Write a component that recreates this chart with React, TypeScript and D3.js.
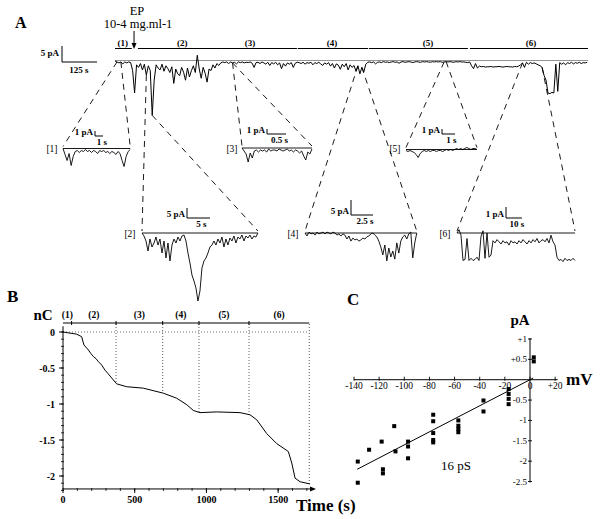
import React from "react";
import * as d3 from "d3";

const FONT = "'Liberation Serif','Times New Roman',serif";

// ---------- Panel A: main recording (pA), one sample every 7 s ----------
const MAIN_DT = 7;
const mainCurrent = [
  0, -0.3, -0.6, -0.3, -0.9, -0.3, -0.6, -0.3, -0.5, -3, -10,
  -1.2, -2.0, -0.8, -2.8, -1.0, -4.4, -1.5, -3.0, -17, -6,
  -1.2, -2.2, -2.8, -1.0, -3.2, -1.5, -2.4, -3.6, -1.8, -7.0,
  -2.5, -4.0, -4.6, -2.0, -3.5, -6.0, -2.2, -5.0, -3.0, -1.5,
  -3.6, 1.8, -2.5, -5.4, -2.0, -3.8, -6.6, -2.5, -3.0, -1.2,
  -2.2, -0.8, -1.4, -0.6, -0.3,
  -0.5, -0.3, -0.8, -0.3, -0.6, -0.4, -0.9, -0.3, -0.5, -0.3,
  -0.6, -0.4, -0.5, -0.3, -0.7, -2.0, -0.5, -0.4, -0.8, -0.3,
  -0.6, -1.0, -0.4, -1.4, -0.5, -0.9, -0.4, -1.2, -0.6, -2.4,
  -0.8, -1.6, -0.6, -1.0, -0.5, -2.0, -0.7, -0.4,
  -0.5, -0.8, -0.4, -1.0, -0.5, -0.7, -0.4, -1.2, -0.5, -0.8,
  -0.4, -0.9, -1.4, -0.6, -1.0, -0.5, -1.6, -0.8, -2.2, -0.9,
  -1.3, -2.6, -1.0, -1.8, -0.8, -2.8, -1.2, -2.0, -1.4, -3.2,
  -1.5, -4.0, -2.0, -3.4, -1.0, -0.4,
  -0.3, -0.5, -0.3, -0.9, -0.4, -0.3, -0.5, -0.2, -0.4, -0.3,
  -0.5, -0.3, -0.2, -0.4, -0.3, -0.7, -0.3, -0.2, -0.4, -0.3,
  -0.2, -0.3, -0.5, -0.3, -0.2, -0.3, -0.4, -0.2, -0.3, -0.2,
  -0.3, -0.4, -0.2, -0.3, -0.2, -0.3, -0.2, -0.4, -0.3, -0.2,
  -0.3, -0.2, -0.3, -0.4, -0.2, -0.3, -0.2, -0.3, -0.3, -0.4, -0.5, -0.3,
  -1.5, -2.4, -0.8, -2.2, -1.6,
  -1.8, -1.7, -1.9, -1.8, -1.8, -1.7, -1.9, -1.8, -1.8, -1.7,
  -1.8, -1.9, -1.8, -1.7, -1.8, -1.8, -1.9, -1.7, -1.8, -1.6,
  -1.2, -0.6, -2.0, -0.4, -1.0, -0.5, -0.8, -0.6, -0.9, -1.2,
  -1.5, -2.0, -4.5, -6.0, -10, -10.2, -9.8, -10, -1.0, -9.5,
  -0.5, -1.0, -0.6, -1.2, -0.5, -0.8, -0.4, -0.9, -0.5, -0.7, -0.4, -0.8, -0.5, -0.6, -0.4,
];
const mainSegmentLabels = ["(1)", "(2)", "(3)", "(4)", "(5)", "(6)"];
const mainSegmentStart = [0, 82, 382, 653, 907, 1268];
const mainSegmentEnd = [60, 382, 650, 904, 1261, 1690];
const mainSegmentLabelTime = [28, 240, 482, 775, 1118, 1486];
const EP_TIME = 68;
const epLines = ["EP", "10-4 mg.ml-1"];
const mainScalePA = 5;
const mainScaleS = 125;

// ---------- Panel A: expanded traces (pA) ----------
const insetNames = ["[1]", "[2]", "[3]", "[4]", "[5]", "[6]"];
const insetDurations = [8.4, 25.2, 1.84, 12.7, 5.46, 73.75];
const insetBarPA = [1, 5, 1, 5, 1, 1];
const insetBarS = [1, 5, 0.5, 2.5, 1, 10];
const insetBarSText = ["1 s", "5 s", "0.5 s", "2.5 s", "1 s", "10 s"];
// times (s) on the main recording where the dashed connectors start
const insetSourceTimes = [[7, 21], [112, 133], [420, 420], [868, 882], [1176, 1183], [1456, 1526]];
const inset1 = [0, -1.2, -2.4, -1, -3.4, -1.6, -0.6, -0.4, -0.8, -0.4, -0.6, -0.2, -0.6, -0.4, -0.8, -0.4, -0.6, -1, -0.4, -0.6, -0.4, -0.8, -0.6, -1, -0.6, -0.8, -1.2, -0.6, -1, -2.4, -3.6, -1.6, -0.6, -0.2];
const inset2 = [0, -1.5, -4, -9, -3, -7, -5, -2, -6, -3, -10, -4, -12.5, -5, -14, -6, -3, -5, -2, -4, -1.5, -1, -4, -10, -15, -21, -24, -27.5, -34, -29, -17.5, -14, -12.5, -10, -7, -6, -4, -6, -3, -5, -2, -7, -3, -6, -2.5, -4, -1.5, -5, -2, -3, -1, -4, -1.5, -2.5, -1, -3, -1.5, -2, 0];
const inset3 = [0, -0.6, -1.2, -2.8, -1, -2, -0.6, -0.4, -0.8, -0.4, -0.6, -0.4, -0.8, -0.2, -0.6, -0.4, -0.4, -0.6, -0.2, -0.4, -0.6, -0.4, -0.2, -0.6, -0.4, -0.8, -0.4, -0.6, -1, -0.6, -1.6, -2.4, -0.8, -1.2, -0.2];
const inset4 = [0, -1, 0.3, -0.3, 0, -0.7, 0.3, -0.3, 0, 0.3, -0.3, 0.3, 0, -0.3, 0.3, 0, -0.7, -0.3, -1, -0.3, -0.7, -2, -1, -2.7, -1.7, -2.3, -2, -2.7, -2.3, -1.7, -2, -1.3, -1, -0.3, 0, -0.7, -1.3, -2.7, -4.7, -7.3, -4, -9.3, -5, -8, -6, -8.7, -3.3, -6.7, -2.7, -1.3, -0.7, -2, -0.3, 0.3, -8.3, -3.3, 0];
const inset5 = [-0.2, -0.4, -0.2, -0.4, -0.6, -1, -1.6, -0.8, -0.4, -0.2, -0.4, -0.2, -0.4, -0.2, -0.2, -0.4, -0.2, -0.2, -0.4, -0.2, 0, -0.2, 0, -0.2, 0, 0.2, 0, 0.2, 0, 0.2, 0.4, 0.2, 0, 0.2, 0.2, 0];
const inset6 = [0, 0.3, -0.2, -2.5, -2.4, -0.5, -2.5, -2.3, -2.5, -2.4, -2.2, -2.5, -0.3, 0.2, -2.3, 0, -2.2, -2.0, -0.7, -0.9, -0.6, -0.8, -1.0, -0.7, -0.9, -0.8, -1.1, -0.7, -0.9, -0.8, -1.0, -0.7, -0.9, -0.6, -0.8, -1.0, -0.7, -0.9, -0.6, -0.8, -0.5, -0.9, -0.7, -0.6, -0.8, -0.5, -0.9, -0.2, -0.8, -1.1, -2.2, -2.5, -2.4, -2.6, -2.3, -2.5, -2.4, -2.5, -2.3, -2.5];
const insetValues = [inset1, inset2, inset3, inset4, inset5, inset6];

// ---------- Panel B: cumulative charge ----------
const chargeTime = [0, 95, 130, 146, 160, 177, 195, 211, 230, 246, 270, 293, 315, 340, 374, 444, 560, 700, 793, 863, 909, 955, 1072, 1234, 1304, 1351, 1420, 1490, 1571, 1595, 1618, 1653, 1722];
const chargeNC = [0, -0.03, -0.065, -0.18, -0.21, -0.25, -0.3, -0.34, -0.37, -0.41, -0.46, -0.53, -0.58, -0.64, -0.72, -0.76, -0.78, -0.85, -0.92, -1.01, -1.09, -1.12, -1.11, -1.12, -1.15, -1.22, -1.41, -1.55, -1.66, -1.82, -2.03, -2.08, -2.11];
const bSegmentStart = [0, 60, 370, 695, 948, 1297];
const bSegmentEnd = [60, 370, 695, 948, 1297, 1717];
const bYTicks = [0, -0.5, -1, -1.5, -2];
const bYTickText = ["0", "-0.5", "-1", "-1.5", "-2"];
const bXTicks = [0, 500, 1000, 1500];

// ---------- Panel C: I-V relation ----------
const ivVoltage = [-137, -137, -128, -118, -117, -117, -108, -107, -97, -97, -97, -77, -77, -77, -77, -77, -57, -57, -57, -57, -37, -37, -17, -17, -17, -17, 3, 3];
const ivCurrent = [-2.01, -2.53, -1.72, -1.52, -2.2, -2.3, -1.14, -1.76, -1.52, -1.64, -1.93, -0.86, -1.02, -1.31, -1.48, -1.54, -1.0, -1.13, -1.21, -1.29, -0.51, -0.78, -0.23, -0.35, -0.47, -0.6, 0.45, 0.55];
const conductancePS = 16;
const fitRangeMV = [-137.5, 2.5];
const cXTicks = [-140, -120, -100, -80, -60, -40, -20, 0, 20];
const cXTickText = ["-140", "-120", "-100", "-80", "-60", "-40", "-20", "0", "+20"];
const cYTicks = [1, 0.5, -0.5, -1, -1.5, -2, -2.5];
const cYTickText = ["+1", "+0.5", "-0.5", "-1", "-1.5", "-2", "-2.5"];

// ---------- layout for expanded traces ----------
const insetLayout = [
  { x0: 63, base: 148.5, pxPerS: 8, pxPerPA: 5, lx: 52, ly: 152, bx: 95, by: 136 },
  { x0: 142, base: 233, pxPerS: 4.6, pxPerPA: 2, lx: 130, ly: 237, bx: 187, by: 218 },
  { x0: 242, base: 148, pxPerS: 38, pxPerPA: 5, lx: 232, ly: 152, bx: 267, by: 134 },
  { x0: 305, base: 233, pxPerS: 8.8, pxPerPA: 3, lx: 293, ly: 237, bx: 351, by: 215 },
  { x0: 406, base: 149.5, pxPerS: 13, pxPerPA: 5, lx: 395, ly: 152, bx: 442, by: 134 },
  { x0: 457, base: 233, pxPerS: 1.6, pxPerPA: 11, lx: 445, ly: 237, bx: 506, by: 218 },
];

export default function App() {
  const line = d3.line<[number, number]>().x((d) => d[0]).y((d) => d[1]);

  // main scales
  const mX = d3.scaleLinear().domain([0, 1690]).range([115, 588]);
  const mY = d3.scaleLinear().domain([0, -10]).range([61, 93]);
  const mainPts: [number, number][] = mainCurrent.map((v, i) => [mX(i * MAIN_DT), mY(v)]);
  const mainAt = (t: number): [number, number] => {
    const i = Math.max(0, Math.min(mainCurrent.length - 1, Math.round(t / MAIN_DT)));
    return [mX(i * MAIN_DT), mY(mainCurrent[i])];
  };

  // B scales
  const bX = d3.scaleLinear().domain([0, 1750]).range([63, 314]);
  const bY = d3.scaleLinear().domain([0, -2]).range([332, 476]);
  const chargeAt = (t: number) => {
    const i = d3.bisectLeft(chargeTime, t);
    if (i <= 0) return chargeNC[0];
    if (i >= chargeTime.length) return chargeNC[chargeNC.length - 1];
    const f = (t - chargeTime[i - 1]) / (chargeTime[i] - chargeTime[i - 1]);
    return chargeNC[i - 1] + f * (chargeNC[i] - chargeNC[i - 1]);
  };
  const chargePts: [number, number][] = chargeTime.map((t, i) => [bX(t), bY(chargeNC[i])]);
  const bMinorY = d3.range(0, -2.21, -0.1);
  const bMinorX = d3.range(0, 1701, 100);

  // C scales
  const cX = d3.scaleLinear().domain([-140, 0]).range([354, 530]);
  const cY = d3.scaleLinear().domain([1, -2.5]).range([339, 481.5]);
  const gNS = conductancePS / 1000;

  const txt = { fontFamily: FONT, fill: "#000" } as const;

  return (
    <svg width={600} height={519} style={{ position: "absolute", left: 0, top: 0, background: "#fff" }}>
      <rect x={0} y={0} width={600} height={519} fill="#fff" />
      {/* ===== Panel A ===== */}
      <text x={15} y={28} fontSize={16} fontWeight="bold" {...txt}>A</text>
      <text x={137} y={15} fontSize={12.5} textAnchor="middle" {...txt}>{epLines[0]}</text>
      <text x={138} y={28} fontSize={12.5} textAnchor="middle" {...txt}>{epLines[1]}</text>
      <line x1={mX(EP_TIME)} x2={mX(EP_TIME)} y1={31} y2={44} stroke="#000" strokeWidth={1} />
      <path d={`M${mX(EP_TIME) - 2.5},${43} L${mX(EP_TIME) + 2.5},${43} L${mX(EP_TIME)},${49} Z`} fill="#000" />

      {/* main scale bar */}
      <path
        d={`M${62},${62 - mainScalePA * 3.2} V${62} H${62 + mainScaleS * 0.28}`}
        fill="none" stroke="#000" strokeWidth={1}
      />
      <text x={59} y={56} fontSize={9} fontWeight="bold" textAnchor="end" {...txt}>{mainScalePA} pA</text>
      <text x={79} y={73} fontSize={9} fontWeight="bold" textAnchor="middle" {...txt}>{mainScaleS} s</text>

      {/* segment bars */}
      {mainSegmentLabels.map((lab, i) => (
        <g key={lab}>
          <line x1={mX(mainSegmentStart[i])} x2={mX(mainSegmentEnd[i])} y1={48.5} y2={48.5} stroke="#000" strokeWidth={1} />
          <text x={mX(mainSegmentLabelTime[i])} y={45.5} fontSize={9} fontWeight="bold" textAnchor="middle" {...txt}>{lab}</text>
        </g>
      ))}

      {/* main trace */}
      <line x1={mX(0)} x2={mX(1690)} y1={mY(0) - 0.5} y2={mY(0) - 0.5} stroke="#777" strokeWidth={0.8} />
      <path d={line(mainPts) || ""} fill="none" stroke="#000" strokeWidth={1} strokeLinejoin="round" />

      {/* connectors and expanded traces */}
      {insetLayout.map((L, k) => {
        const vals = insetValues[k];
        const dur = insetDurations[k];
        const x1 = L.x0 + dur * L.pxPerS;
        const ix = d3.scaleLinear().domain([0, dur]).range([L.x0, x1]);
        const iy = d3.scaleLinear().domain([0, -1]).range([L.base, L.base + L.pxPerPA]);
        const dt = dur / (vals.length - 1);
        const pts: [number, number][] = vals.map((v, i) => [ix(i * dt), iy(v)]);
        const s0 = mainAt(insetSourceTimes[k][0]);
        const s1 = mainAt(insetSourceTimes[k][1]);
        const barH = insetBarPA[k] * L.pxPerPA;
        const barW = insetBarS[k] * L.pxPerS;
        return (
          <g key={k}>
            <line x1={s0[0]} y1={s0[1]} x2={L.x0} y2={L.base - 2} stroke="#000" strokeWidth={0.9} strokeDasharray="6,5" />
            <line x1={s1[0]} y1={s1[1]} x2={x1} y2={L.base - 2} stroke="#000" strokeWidth={0.9} strokeDasharray="6,5" />
            <line x1={L.x0} x2={x1} y1={L.base} y2={L.base} stroke="#000" strokeWidth={0.9} />
            <path d={line(pts) || ""} fill="none" stroke="#000" strokeWidth={0.9} strokeLinejoin="round" />
            <text x={L.lx} y={L.ly} fontSize={9.5} textAnchor="middle" {...txt}>{insetNames[k]}</text>
            <path d={`M${L.bx},${L.by - barH} V${L.by} H${L.bx + barW}`} fill="none" stroke="#000" strokeWidth={1} />
            <text x={L.bx - 2} y={L.by - 1} fontSize={9} fontWeight="bold" textAnchor="end" {...txt}>{insetBarPA[k]} pA</text>
            <text x={L.bx + barW / 2 + 3} y={L.by + 8.5} fontSize={9} fontWeight="bold" textAnchor="middle" {...txt}>{insetBarSText[k]}</text>
          </g>
        );
      })}

      {/* ===== Panel B ===== */}
      <text x={7} y={302} fontSize={17} fontWeight="bold" {...txt}>B</text>
      <text x={43} y={320} fontSize={15} fontWeight="bold" textAnchor="middle" {...txt}>nC</text>
      <line x1={bX(0)} x2={bX(1717)} y1={323} y2={323} stroke="#000" strokeWidth={1} />
      {mainSegmentLabels.map((lab, i) => (
        <text key={lab} x={bX((bSegmentStart[i] + bSegmentEnd[i]) / 2)} y={318} fontSize={9.5} fontWeight="bold" textAnchor="middle" {...txt}>{lab}</text>
      ))}
      {bSegmentStart.slice(1).map((t) => (
        <line key={t} x1={bX(t)} x2={bX(t)} y1={321} y2={325} stroke="#000" strokeWidth={1} />
      ))}
      {/* dotted guides */}
      <line x1={bX(0)} x2={bX(1717)} y1={bY(0)} y2={bY(0)} stroke="#444" strokeWidth={0.8} strokeDasharray="1,2" />
      {bSegmentEnd.slice(1).map((t) => (
        <line key={t} x1={bX(t)} x2={bX(t)} y1={324} y2={bY(chargeAt(t))} stroke="#333" strokeWidth={0.8} strokeDasharray="1,2" />
      ))}
      {/* axes */}
      <line x1={bX(0)} x2={bX(0)} y1={bY(0.08)} y2={bY(-2.18)} stroke="#000" strokeWidth={1} />
      <line x1={bX(0)} x2={313} y1={bY(-2.18)} y2={bY(-2.18)} stroke="#000" strokeWidth={1} />
      <path d={`M${310},${bY(-2.18) - 2.5} L${316},${bY(-2.18)} L${310},${bY(-2.18) + 2.5} Z`} fill="#000" />
      {bMinorY.map((v, i) => (
        <line key={"bmy" + i} x1={bX(0) - 2} x2={bX(0) + 1} y1={bY(v)} y2={bY(v)} stroke="#000" strokeWidth={0.8} />
      ))}
      {bYTicks.map((v, i) => (
        <g key={"by" + i}>
          <line x1={bX(0) - 4} x2={bX(0)} y1={bY(v)} y2={bY(v)} stroke="#000" strokeWidth={1} />
          <text x={55} y={bY(v) + 3.5} fontSize={10} fontWeight="bold" textAnchor="end" {...txt}>{bYTickText[i]}</text>
        </g>
      ))}
      {bMinorX.map((v, i) => (
        <line key={"bmx" + i} x1={bX(v)} x2={bX(v)} y1={bY(-2.18) - 1} y2={bY(-2.18) + 2} stroke="#000" strokeWidth={0.8} />
      ))}
      {bXTicks.map((v) => (
        <g key={"bx" + v}>
          <line x1={bX(v)} x2={bX(v)} y1={bY(-2.18)} y2={bY(-2.18) + 4} stroke="#000" strokeWidth={1} />
          <text x={bX(v)} y={503} fontSize={10} fontWeight="bold" textAnchor="middle" {...txt}>{v}</text>
        </g>
      ))}
      <text x={296} y={511} fontSize={17} fontWeight="bold" {...txt}>Time (s)</text>
      <path d={line(chargePts) || ""} fill="none" stroke="#000" strokeWidth={1} />

      {/* ===== Panel C ===== */}
      <text x={347} y={305} fontSize={17} fontWeight="bold" {...txt}>C</text>
      <text x={520} y={325} fontSize={15} fontWeight="bold" textAnchor="middle" {...txt}>pA</text>
      <text x={566} y={385} fontSize={17} fontWeight="bold" {...txt}>mV</text>
      <line x1={cX(-140)} x2={cX(22)} y1={cY(0)} y2={cY(0)} stroke="#000" strokeWidth={1} />
      <line x1={cX(0)} x2={cX(0)} y1={cY(1) - 1} y2={cY(-2.5) + 1} stroke="#000" strokeWidth={1} />
      {cXTicks.map((v, i) => (
        <g key={"cx" + v}>
          <line x1={cX(v)} x2={cX(v)} y1={cY(0) - 3} y2={cY(0) + 1} stroke="#000" strokeWidth={0.9} />
          <text x={cX(v)} y={cY(0) + 9} fontSize={9.5} textAnchor="middle" {...txt}>{cXTickText[i]}</text>
        </g>
      ))}
      {cYTicks.map((v, i) => (
        <g key={"cy" + i}>
          <line x1={cX(0) - 2} x2={cX(0) + 2} y1={cY(v)} y2={cY(v)} stroke="#000" strokeWidth={0.9} />
          <text x={cX(0) - 3} y={cY(v) + 3} fontSize={9} textAnchor="end" {...txt}>{cYTickText[i]}</text>
        </g>
      ))}
      <line
        x1={cX(fitRangeMV[0])} y1={cY(gNS * fitRangeMV[0])}
        x2={cX(fitRangeMV[1])} y2={cY(gNS * fitRangeMV[1])}
        stroke="#000" strokeWidth={1}
      />
      {ivVoltage.map((v, i) => (
        <rect key={"p" + i} x={cX(v) - 2} y={cY(ivCurrent[i]) - 2} width={4} height={4} fill="#000" />
      ))}
      <text x={456} y={470} fontSize={13} textAnchor="middle" {...txt}>{conductancePS} pS</text>
    </svg>
  );
}
